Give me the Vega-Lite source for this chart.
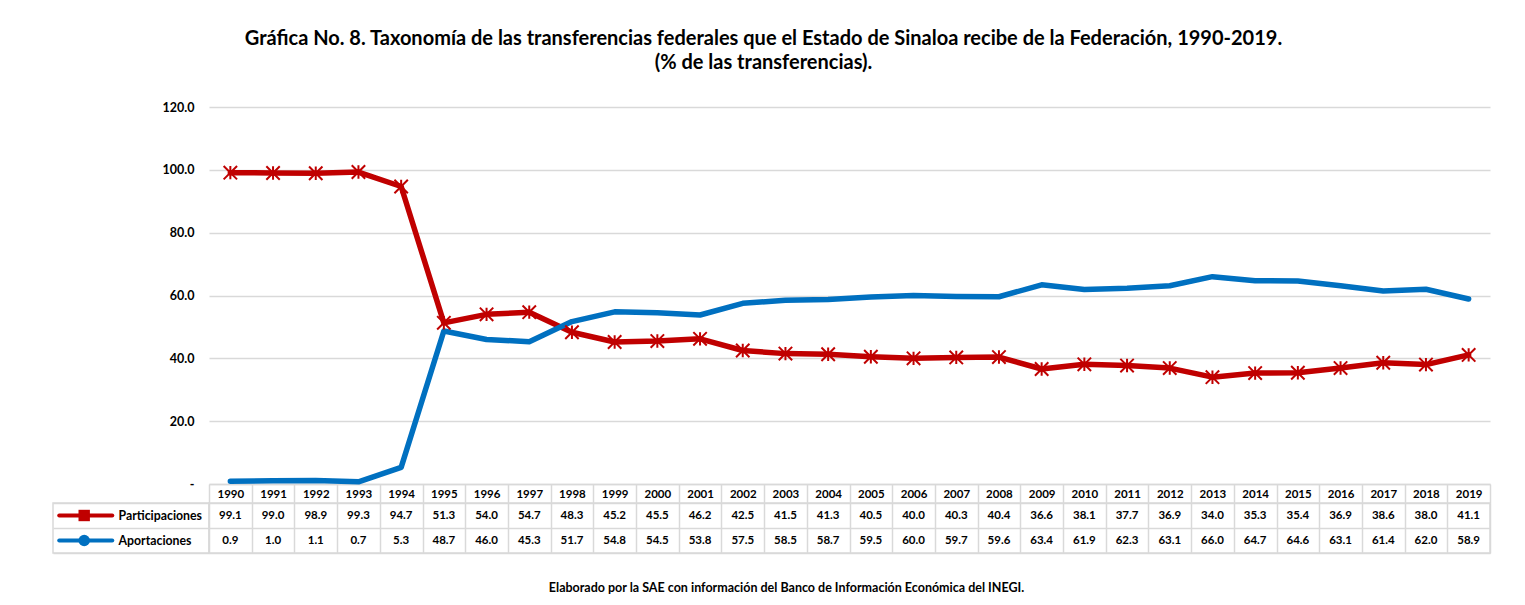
{
  "$schema": "https://vega.github.io/schema/vega-lite/v6.json",
  "padding": {"left": 52, "top": 29, "right": 10, "bottom": 5},
  "background": "white",
  "title": {
    "text": ["Gráfica No. 8. Taxonomía de las transferencias federales que el Estado de Sinaloa recibe de la Federación, 1990-2019.", "(% de las transferencias)."],
    "anchor": "middle",
    "fontSize": 20,
    "font": "Lato",
    "fontWeight": "bold",
    "lineHeight": 24,
    "offset": 28,
    "dx": -8,
    "color": "#000"
  },
  "datasets": {
    "d": [
      {"year": "1990", "Participaciones": 99.1, "Aportaciones": 0.9},
      {"year": "1991", "Participaciones": 99.0, "Aportaciones": 1.0},
      {"year": "1992", "Participaciones": 98.9, "Aportaciones": 1.1},
      {"year": "1993", "Participaciones": 99.3, "Aportaciones": 0.7},
      {"year": "1994", "Participaciones": 94.7, "Aportaciones": 5.3},
      {"year": "1995", "Participaciones": 51.3, "Aportaciones": 48.7},
      {"year": "1996", "Participaciones": 54.0, "Aportaciones": 46.0},
      {"year": "1997", "Participaciones": 54.7, "Aportaciones": 45.3},
      {"year": "1998", "Participaciones": 48.3, "Aportaciones": 51.7},
      {"year": "1999", "Participaciones": 45.2, "Aportaciones": 54.8},
      {"year": "2000", "Participaciones": 45.5, "Aportaciones": 54.5},
      {"year": "2001", "Participaciones": 46.2, "Aportaciones": 53.8},
      {"year": "2002", "Participaciones": 42.5, "Aportaciones": 57.5},
      {"year": "2003", "Participaciones": 41.5, "Aportaciones": 58.5},
      {"year": "2004", "Participaciones": 41.3, "Aportaciones": 58.7},
      {"year": "2005", "Participaciones": 40.5, "Aportaciones": 59.5},
      {"year": "2006", "Participaciones": 40.0, "Aportaciones": 60.0},
      {"year": "2007", "Participaciones": 40.3, "Aportaciones": 59.7},
      {"year": "2008", "Participaciones": 40.4, "Aportaciones": 59.6},
      {"year": "2009", "Participaciones": 36.6, "Aportaciones": 63.4},
      {"year": "2010", "Participaciones": 38.1, "Aportaciones": 61.9},
      {"year": "2011", "Participaciones": 37.7, "Aportaciones": 62.3},
      {"year": "2012", "Participaciones": 36.9, "Aportaciones": 63.1},
      {"year": "2013", "Participaciones": 34.0, "Aportaciones": 66.0},
      {"year": "2014", "Participaciones": 35.3, "Aportaciones": 64.7},
      {"year": "2015", "Participaciones": 35.4, "Aportaciones": 64.6},
      {"year": "2016", "Participaciones": 36.9, "Aportaciones": 63.1},
      {"year": "2017", "Participaciones": 38.6, "Aportaciones": 61.4},
      {"year": "2018", "Participaciones": 38.0, "Aportaciones": 62.0},
      {"year": "2019", "Participaciones": 41.1, "Aportaciones": 58.9}
    ]
  },
  "columns": 2,
  "spacing": {"row": 19, "column": 0},
  "bounds": "flush",
  "align": "each",
  "config": {
    "font": "Lato",
    "view": {"stroke": null},
    "axis": {"labelFont": "Lato", "labelFontWeight": "bold", "labelFontSize": 11, "labelColor": "#000"}
  },
  "concat": [
    {
      "width": 156,
      "height": 377,
      "data": {"values": []},
      "mark": "point"
    },
    {
      "width": 1281,
      "height": 377,
      "data": {"name": "d"},
      "transform": [{"fold": ["Participaciones", "Aportaciones"], "as": ["series", "value"]}],
      "encoding": {
        "x": {
          "field": "year", "type": "ordinal",
          "scale": {"type": "band", "paddingInner": 0, "paddingOuter": 0},
          "axis": {"title": null, "orient": "bottom", "domain": true, "domainColor": "#d9d9d9", "domainWidth": 1.5, "ticks": true, "tickBand": "extent", "tickSize": 19, "tickColor": "#d9d9d9", "tickWidth": 1.5, "labelPadding": -15, "labelAngle": 0, "labelFontSize": 11.5, "grid": false}
        },
        "y": {
          "field": "value", "type": "quantitative",
          "scale": {"domain": [0, 120], "nice": false},
          "axis": {"title": null, "values": [0, 20, 40, 60, 80, 100, 120], "labelExpr": "datum.value == 0 ? '-' : format(datum.value, '.1f')", "domain": false, "ticks": false, "labelPadding": 15, "labelFontSize": 12.5, "gridColor": "#d9d9d9", "gridWidth": 1.5}
        },
        "color": {
          "field": "series", "type": "nominal",
          "scale": {"domain": ["Participaciones", "Aportaciones"], "range": ["#c00000", "#0070c0"]},
          "legend": null
        }
      },
      "layer": [
        {"mark": {"type": "line", "strokeWidth": 5.5, "strokeCap": "round", "strokeJoin": "round"}},
        {
          "transform": [{"filter": "datum.series == 'Participaciones'"}],
          "mark": {"type": "point", "shape": "M-1,-1L1,1M-1,1L1,-1M0,-1L0,1", "filled": false, "strokeWidth": 2, "size": 180, "opacity": 1}
        }
      ]
    },
    {
      "width": 156,
      "height": 50,
      "data": {"values": [{"series": "Participaciones"}, {"series": "Aportaciones"}]},
      "view": {"stroke": "#d9d9d9", "strokeWidth": 1.5},
      "encoding": {
        "y": {
          "field": "series", "type": "nominal", "sort": ["Participaciones", "Aportaciones"],
          "scale": {"paddingInner": 0, "paddingOuter": 0},
          "axis": {"title": null, "labels": false, "ticks": false, "domain": false, "grid": true, "tickBand": "extent", "gridColor": "#d9d9d9", "gridWidth": 1.5}
        },
        "color": {
          "field": "series", "type": "nominal",
          "scale": {"domain": ["Participaciones", "Aportaciones"], "range": ["#c00000", "#0070c0"]},
          "legend": null
        }
      },
      "layer": [
        {
          "mark": {"type": "rule", "strokeWidth": 4, "strokeCap": "round"},
          "encoding": {
            "x": {"datum": 4, "type": "quantitative", "scale": {"domain": [0, 100]}, "axis": null},
            "x2": {"datum": 38}
          }
        },
        {
          "mark": {"type": "point", "filled": true, "size": 130, "opacity": 1},
          "encoding": {
            "x": {"datum": 20, "type": "quantitative"},
            "shape": {"field": "series", "type": "nominal", "scale": {"domain": ["Participaciones", "Aportaciones"], "range": ["square", "circle"]}, "legend": null}
          }
        },
        {
          "mark": {"type": "text", "align": "left", "fontWeight": "bold", "fontSize": 12.3},
          "encoding": {
            "x": {"datum": 42, "type": "quantitative"},
            "text": {"field": "series"},
            "color": {"value": "#000"}
          }
        }
      ]
    },
    {
      "width": 1281,
      "height": 50,
      "data": {"name": "d"},
      "transform": [{"fold": ["Participaciones", "Aportaciones"], "as": ["series", "value"]}],
      "view": {"stroke": "#d9d9d9", "strokeWidth": 1.5},
      "title": {"text": "Elaborado por la SAE con información del Banco de Información Económica del INEGI.", "orient": "bottom", "anchor": "middle", "fontSize": 12.5, "fontWeight": "bold", "offset": 29, "dx": -63, "color": "#000"},
      "mark": {"type": "text", "fontWeight": "bold", "fontSize": 11.5},
      "encoding": {
        "x": {
          "field": "year", "type": "ordinal",
          "scale": {"type": "band", "paddingInner": 0, "paddingOuter": 0},
          "axis": {"orient": "top", "title": null, "labels": false, "ticks": false, "domain": false, "grid": true, "tickBand": "extent", "gridColor": "#d9d9d9", "gridWidth": 1.5}
        },
        "y": {
          "field": "series", "type": "nominal", "sort": ["Participaciones", "Aportaciones"],
          "scale": {"paddingInner": 0, "paddingOuter": 0},
          "axis": {"title": null, "labels": false, "ticks": false, "domain": false, "grid": true, "tickBand": "extent", "gridColor": "#d9d9d9", "gridWidth": 1.5}
        },
        "text": {"field": "value", "type": "quantitative", "format": ".1f"},
        "color": {"value": "#000"}
      }
    }
  ]
}
